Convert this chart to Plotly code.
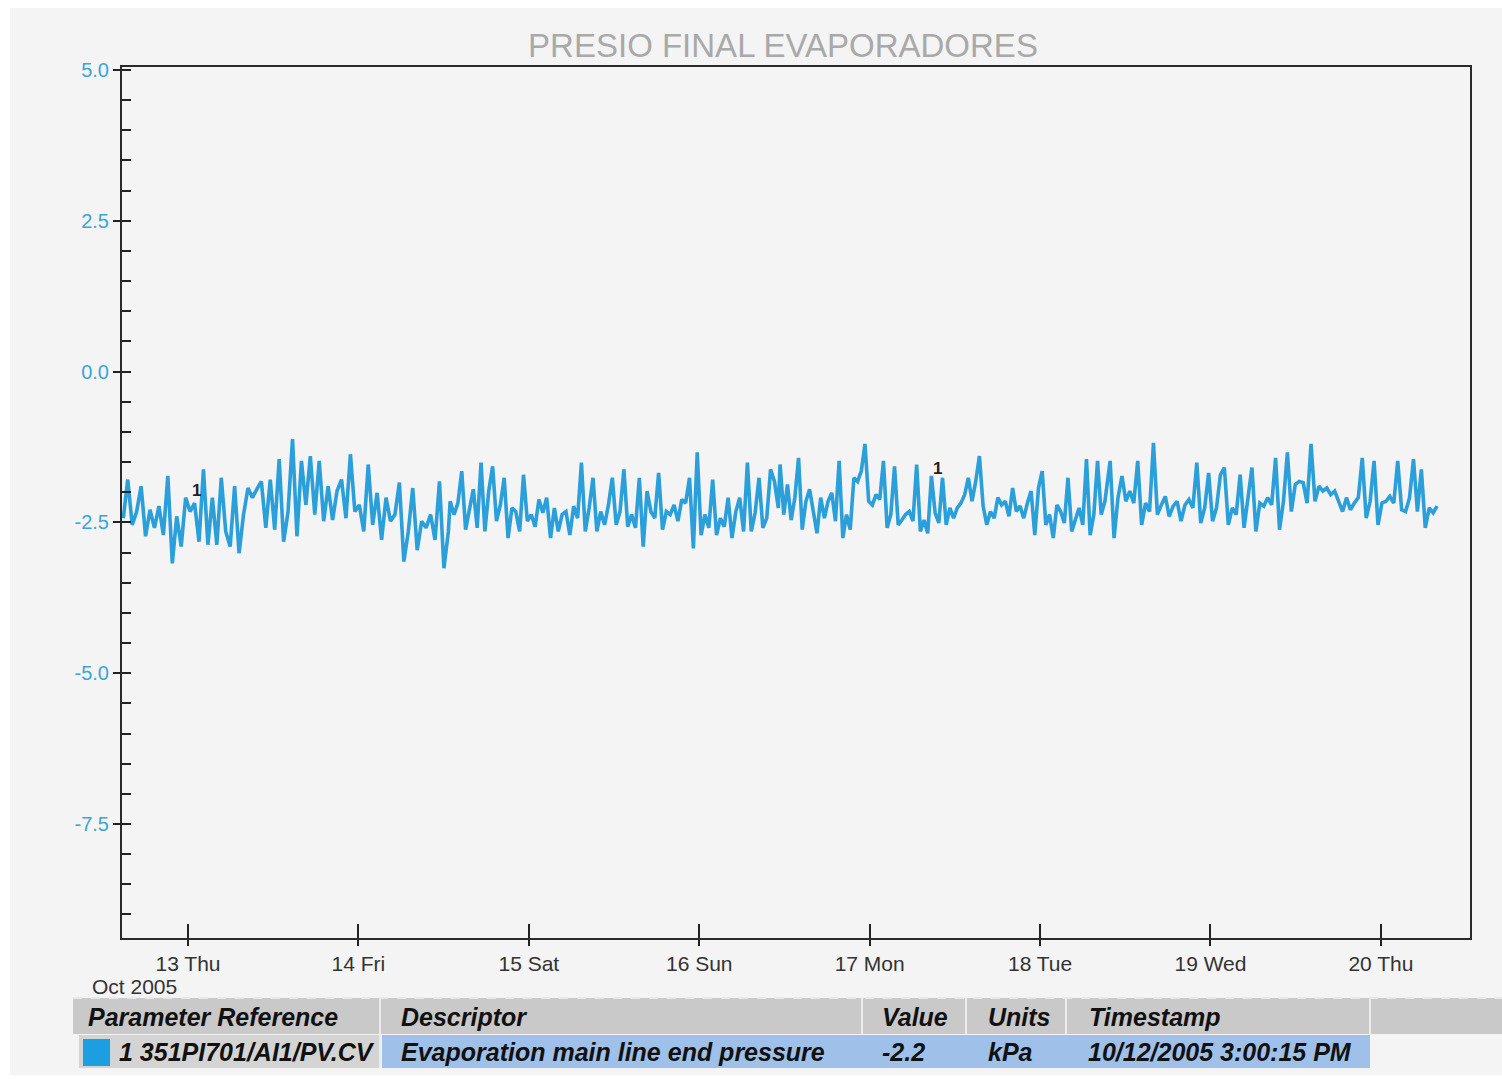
import pandas as pd
import plotly.graph_objects as go

# ---------------- data ----------------
TITLE = "PRESIO FINAL EVAPORADORES"

# trend samples in four consecutive stretches
SEG_A_START, SEG_A_END = "2005-10-12 14:53", "2005-10-14 12:40"
SEG_A = [-2.43, -1.79, -2.54, -2.32, -1.90, -2.73, -2.29, -2.59, -2.23, -2.71,
         -1.73, -3.18, -2.40, -2.90, -2.09, -2.32, -2.18, -2.82, -1.62, -2.87,
         -2.09, -2.87, -1.76, -2.65, -2.90, -1.90, -3.01, -2.37, -1.93, -2.09,
         -1.95, -1.82, -2.59, -1.79, -2.62, -1.45, -2.82, -2.32, -1.12, -2.73,
         -1.48, -2.21, -1.40, -2.37, -1.48, -2.48, -1.90, -2.46, -1.98, -1.79,
         -2.43, -1.37, -2.32, -2.21, -2.65, -1.54, -2.54, -2.01, -2.79, -2.09,
         -2.48, -2.37, -1.84, -3.15, -2.65, -1.93, -2.96, -2.48, -2.59, -2.37,
         -2.79, -1.82, -3.26, -2.65]

SEG_B_START, SEG_B_END = "2005-10-14 12:55", "2005-10-16 11:08"
SEG_B = [-2.15, -2.37, -2.18, -1.65, -2.62, -2.32, -1.95, -2.59, -1.51, -2.65,
         -1.98, -1.57, -2.48, -2.21, -1.76, -2.76, -2.26, -2.32, -2.65, -1.71,
         -2.48, -2.37, -2.57, -2.12, -2.34, -2.09, -2.76, -2.26, -2.65, -2.37,
         -2.32, -2.71, -2.23, -2.43, -1.51, -2.65, -2.26, -1.76, -2.65, -2.32,
         -2.54, -2.21, -1.76, -2.54, -2.32, -1.62, -2.57, -2.37, -2.59, -1.76,
         -2.90, -1.98, -2.32, -2.43, -1.68, -2.62, -2.32, -2.37, -2.21, -2.48,
         -2.12, -2.18, -1.76, -2.93, -1.34, -2.71, -2.37, -2.59, -1.79, -2.71,
         -2.43, -2.57, -2.09, -2.76, -2.32, -2.09, -2.65, -1.51, -2.65, -2.34,
         -1.76, -2.59, -2.43, -1.62, -1.82, -2.26]

SEG_C_START, SEG_C_END = "2005-10-16 11:23", "2005-10-18 09:08"
SEG_C = [-1.54, -2.37, -1.87, -2.46, -2.09, -1.43, -2.62, -2.15, -1.95, -2.32,
         -2.68, -2.09, -2.43, -2.15, -2.01, -2.48, -1.48, -2.76, -2.37, -2.62,
         -1.76, -1.82, -1.65, -1.20, -2.15, -2.21, -2.04, -2.12, -1.48, -2.59,
         -2.37, -1.57, -2.54, -2.46, -2.37, -2.32, -2.48, -1.54, -2.65, -2.46,
         -2.68, -1.73, -2.34, -2.51, -1.76, -2.54, -2.26, -2.43, -2.26, -2.18,
         -2.04, -1.76, -2.15, -1.82, -1.40, -2.23, -2.54, -2.32, -2.43, -2.09,
         -2.21, -2.15, -2.40, -1.93, -2.32, -2.23, -2.43, -2.18, -1.98, -2.71,
         -1.93, -1.65, -2.54, -2.37, -2.76, -2.21, -2.32, -2.51, -1.76, -2.65,
         -2.43, -2.26, -2.54, -1.45, -2.71, -2.37, -1.48, -2.37, -2.15]

SEG_D_START, SEG_D_END = "2005-10-18 09:52", "2005-10-20 07:55"
SEG_D = [-1.48, -2.76, -2.09, -1.73, -2.15, -1.98, -2.18, -1.48, -2.54, -2.18,
         -2.32, -1.18, -2.37, -2.21, -2.07, -2.40, -2.23, -2.15, -2.48, -2.21,
         -2.12, -2.26, -1.51, -2.51, -2.26, -1.68, -2.48, -2.26, -1.71, -1.59,
         -2.54, -2.26, -2.37, -1.71, -2.59, -2.09, -1.59, -2.65, -2.18, -2.23,
         -2.09, -2.21, -1.43, -2.62, -2.15, -1.34, -2.32, -1.87, -1.82, -1.84,
         -2.18, -1.20, -2.15, -1.90, -1.98, -1.93, -2.04, -1.98, -2.15, -2.32,
         -2.09, -2.29, -2.18, -2.09, -1.43, -2.43, -2.15, -1.48, -2.54, -2.18,
         -2.15, -2.07, -2.18, -1.48, -2.29, -2.32, -2.09, -1.45, -2.32, -1.62,
         -2.59, -2.26, -2.34, -2.23]

# trace number markers ("1") printed along the line
MARK_TIMES = ["2005-10-13 01:08", "2005-10-17 09:29"]
MARK_VALUES = [-1.97, -1.61]
MARK_TEXT = ["1", "1"]

# axes
X_RANGE = ["2005-10-12 14:42", "2005-10-20 12:33"]
DAY_TICKS = ["2005-10-13", "2005-10-14", "2005-10-15", "2005-10-16",
             "2005-10-17", "2005-10-18", "2005-10-19", "2005-10-20"]
DAY_LABELS = ["13 Thu", "14 Fri", "15 Sat", "16 Sun", "17 Mon", "18 Tue", "19 Wed", "20 Thu"]
Y_RANGE = [-9.39, 5.05]
Y_TICKS = [5.0, 2.5, 0.0, -2.5, -5.0, -7.5]
Y_LABELS = ["5.0", "2.5", "0.0", "-2.5", "-5.0", "-7.5"]

# legend table
TABLE_HEADERS = ["Parameter Reference", "Descriptor", "Value", "Units", "Timestamp"]
TABLE_ROW = ["1 351PI701/AI1/PV.CV", "Evaporation main line end pressure", "-2.2", "kPa",
             "10/12/2005 3:00:15 PM"]

# ---------------- styles ----------------
W, H = 1502, 1079
LINE_COLOR = "#2a9fda"
FONT = "Liberation Sans, Arial, sans-serif"
BG = "#f4f4f4"

# table layout (pixels)
COL_EDGES = [73, 380, 862, 966, 1066, 1370]
HDR_TEXT_X = [86, 399, 880, 986, 1087]
ROW_TEXT_X = [117, 399, 880, 986, 1086]
HDR_Y0, HDR_Y1 = 998, 1034
ROW_Y0, ROW_Y1 = 1035, 1068


def px(x):
    return x / W


def py(y):
    return 1 - y / H


times = []
values = []
for start, end, seg in [(SEG_A_START, SEG_A_END, SEG_A), (SEG_B_START, SEG_B_END, SEG_B),
                        (SEG_C_START, SEG_C_END, SEG_C), (SEG_D_START, SEG_D_END, SEG_D)]:
    times.extend(pd.date_range(start, end, periods=len(seg)))
    values.extend(seg)

fig = go.Figure()
fig.add_trace(go.Scatter(x=times, y=values, mode="lines",
                         line=dict(color=LINE_COLOR, width=3.6), showlegend=False,
                         hoverinfo="skip"))
# empty trace so the overlay axes (inside tick marks) get drawn
fig.add_trace(go.Scatter(x=[], y=[], xaxis="x2", yaxis="y2", showlegend=False))

x_dom = [px(122), px(1470)]
y_dom = [py(938), py(67)]

shapes = [
    # scanned page area
    dict(type="rect", xref="paper", yref="paper", layer="below",
         x0=px(10), x1=1.0, y0=py(1075), y1=py(8), fillcolor=BG, line=dict(width=0)),
    # header band
    dict(type="rect", xref="paper", yref="paper", layer="above",
         x0=px(COL_EDGES[0]), x1=1.0, y0=py(HDR_Y1), y1=py(HDR_Y0),
         fillcolor="#c9c9c9", line=dict(width=0)),
    # row: first (grey) cell and blue cells
    dict(type="rect", xref="paper", yref="paper", layer="above",
         x0=px(79), x1=px(COL_EDGES[1]), y0=py(ROW_Y1), y1=py(ROW_Y0),
         fillcolor="#d4d4d4", line=dict(width=0)),
    dict(type="rect", xref="paper", yref="paper", layer="above",
         x0=px(COL_EDGES[1] + 2), x1=px(COL_EDGES[-1]), y0=py(ROW_Y1), y1=py(ROW_Y0),
         fillcolor="#9fc0e8", line=dict(width=0)),
    # colour swatch
    dict(type="rect", xref="paper", yref="paper", layer="above",
         x0=px(83), x1=px(110), y0=py(1066), y1=py(1039),
         fillcolor="#1c9fe0", line=dict(width=0)),
    # header top edge
    dict(type="line", xref="paper", yref="paper", layer="above",
         x0=px(COL_EDGES[0]), x1=1.0, y0=py(HDR_Y0), y1=py(HDR_Y0),
         line=dict(color="#e8e8e8", width=2, dash="dash")),
]
for e in COL_EDGES[1:]:
    shapes.append(dict(type="line", xref="paper", yref="paper", layer="above",
                       x0=px(e), x1=px(e), y0=py(HDR_Y1), y1=py(HDR_Y0),
                       line=dict(color="#ececec", width=2)))
shapes.append(dict(type="line", xref="paper", yref="paper", layer="above",
                   x0=px(COL_EDGES[1]), x1=px(COL_EDGES[1]), y0=py(ROW_Y1), y1=py(ROW_Y0),
                   line=dict(color="#ececec", width=2)))

fig.update_layout(
    width=W, height=H,
    margin=dict(l=0, r=0, t=0, b=0, autoexpand=False),
    paper_bgcolor="#ffffff", plot_bgcolor=BG,
    title=dict(text=TITLE, x=px(783), xanchor="center", y=py(45), yanchor="middle",
               font=dict(family=FONT, size=33, color="#a9a9a9")),
    xaxis=dict(type="date", domain=x_dom, range=X_RANGE, anchor="y", automargin=False,
               tickvals=DAY_TICKS, ticktext=DAY_LABELS,
               ticks="outside", ticklen=6, tickwidth=1.5, tickcolor="#222",
               ticklabelstandoff=0,
               tickfont=dict(family=FONT, size=21, color="#333333"),
               showgrid=False, zeroline=False,
               showline=True, linecolor="#2a2a2a", linewidth=2, mirror=True),
    yaxis=dict(domain=y_dom, range=Y_RANGE, anchor="x", automargin=False,
               tickvals=Y_TICKS, ticktext=Y_LABELS,
               ticks="outside", ticklen=7, tickwidth=1.5, tickcolor="#222",
               tickfont=dict(family=FONT, size=20, color="#3aa6d8"),
               showgrid=False, zeroline=False,
               showline=True, linecolor="#2a2a2a", linewidth=2, mirror=True),
    xaxis2=dict(type="date", domain=x_dom, range=X_RANGE, overlaying="x", anchor="y2",
                automargin=False,
                side="bottom", tickvals=DAY_TICKS, ticks="inside", ticklen=14,
                tickwidth=1.5, tickcolor="#222", showticklabels=False,
                showgrid=False, zeroline=False, showline=False),
    yaxis2=dict(domain=y_dom, range=Y_RANGE, overlaying="y", anchor="x2", side="left",
                automargin=False,
                tick0=0, dtick=0.5, ticks="inside", ticklen=9, tickwidth=2,
                tickcolor="#222", showticklabels=False,
                showgrid=False, zeroline=False, showline=False),
    shapes=shapes,
)

fig.add_annotation(text="Oct 2005", xref="paper", yref="paper", x=px(90), y=py(986),
                   xanchor="left", yanchor="middle", showarrow=False,
                   font=dict(family=FONT, size=21, color="#333333"))
for t, v, s in zip(MARK_TIMES, MARK_VALUES, MARK_TEXT):
    fig.add_annotation(text="<b>%s</b>" % s, x=t, y=v, xref="x", yref="y", showarrow=False,
                       font=dict(family=FONT, size=17, color="#222222"))

for txt, x in zip(TABLE_HEADERS, HDR_TEXT_X):
    fig.add_annotation(text="<b><i>%s</i></b>" % txt, xref="paper", yref="paper",
                       x=px(x), y=py((HDR_Y0 + HDR_Y1) / 2 + 1), xanchor="left", yanchor="middle",
                       showarrow=False, font=dict(family=FONT, size=25, color="#111111"))
for txt, x in zip(TABLE_ROW, ROW_TEXT_X):
    fig.add_annotation(text="<b><i>%s</i></b>" % txt, xref="paper", yref="paper",
                       x=px(x), y=py((ROW_Y0 + ROW_Y1) / 2), xanchor="left", yanchor="middle",
                       showarrow=False, font=dict(family=FONT, size=25, color="#111111"))

fig.write_html("out.html")
